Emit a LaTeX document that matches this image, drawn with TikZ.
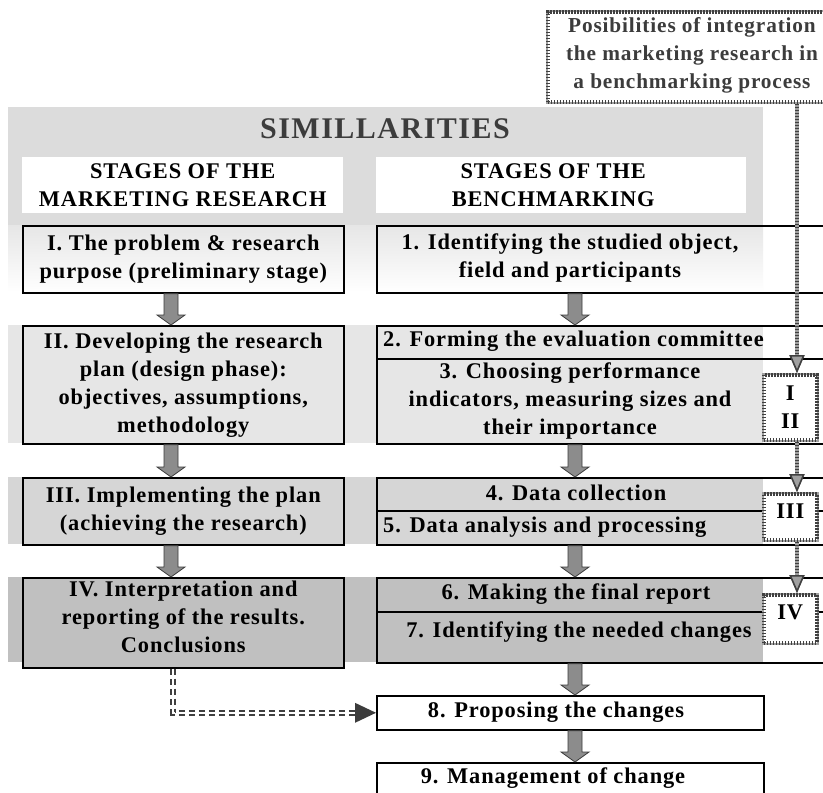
\documentclass[tikz,border=0pt]{standalone}
\usepackage{fontspec}
\setmainfont{Liberation Serif}
\usepackage{xcolor}
\usepackage{tikz}
\usetikzlibrary{positioning,arrows.meta,calc}

\definecolor{bandtop}{HTML}{DCDCDC}
\definecolor{bandtwo}{HTML}{E6E6E6}
\definecolor{bandthree}{HTML}{D6D6D6}
\definecolor{bandfour}{HTML}{C0C0C0}
\definecolor{arrowfill}{HTML}{8C8C8C}
\definecolor{arrowline}{HTML}{3C3C3C}
\definecolor{dotgray}{HTML}{404040}
\definecolor{dotback}{HTML}{A0A0A0}

\tikzset{
  stagebox/.style={draw, line width=1.6pt, inner sep=0pt, anchor=north west},
  stagetext/.style={align=center, inner sep=0pt,
    font=\fontsize{22.4}{28}\selectfont\bfseries\addfontfeature{LetterSpace=4}},
  headbox/.style={fill=white, inner sep=0pt, anchor=north west},
  dotline/.style={draw=dotgray, line width=3.5pt, dash pattern=on 1.5pt off 1.5pt,
    preaction={draw=dotback, line width=3.5pt, solid}},
  markbox/.style={dotline, fill=white, inner sep=0pt, anchor=north west},
  dotarrow/.style={dotline, -{Triangle[length=18pt, width=15pt, line width=1.5pt,
    fill=dotback, color=dotgray]}},
  dashcon/.style={double=white, double distance=1.6pt, line width=2pt,
    dash pattern=on 6pt off 4pt, draw=dotgray},
}

% block arrow between two points on a vertical
\newcommand{\blockarr}[2]{%
  \filldraw[fill=arrowfill, draw=arrowline, line width=0.8pt]
    ($(#1)+(-7,0)$) -- ($(#2)+(-7,-10)$) -- ($(#2)+(-14,-10)$) -- (#2)
    -- ($(#2)+(14,-10)$) -- ($(#2)+(7,-10)$) -- ($(#1)+(7,0)$) -- cycle;}

\begin{document}
\begin{tikzpicture}[x=1pt, y=-1pt]
  \useasboundingbox (0,0) rectangle (823,793);
  \clip (0,0) rectangle (823,793);
  \fill[white] (0,0) rectangle (823,793);

  % grey bands (table shading)
  \fill[bandtop] (8,107) rectangle (763,225);
  \shade[top color=bandtwo, bottom color=white] (8,225) rectangle (763,292);
  \fill[bandtwo] (8,325) rectangle (763,443);
  \fill[bandthree] (8,477) rectangle (763,544);
  \fill[bandfour] (8,577) rectangle (763,662);

  \node[font=\fontsize{30}{32}\selectfont\bfseries\addfontfeature{LetterSpace=5},
    text=arrowline] (sim) at (385,129) {SIMILLARITIES};

  % column headers
  \node[headbox, minimum width=321, minimum height=56] (hl) at (22,157) {};
  \node[stagetext] (hlt) at (hl.center) {STAGES OF THE\\MARKETING RESEARCH};
  \node[headbox, minimum width=370, minimum height=56] (hr) at (376,157) {};
  \node[stagetext] (hrt) at ($(hr.center)+(-8,0)$) {STAGES OF THE\\BENCHMARKING};

  % stages of the marketing research
  \node[stagebox, minimum width=321, minimum height=67,
    top color=bandtwo, bottom color=white] (m1) at (22,225) {};
  \node[stagetext] (m1t) at (m1.center) {I. The problem \& research\\purpose (preliminary stage)};
  \node[stagebox, fill=bandtwo, minimum width=321, minimum height=118] (m2) at (22,325) {};
  \node[stagetext] (m2t) at (m2.center) {II. Developing the research\\plan (design phase):\\objectives, assumptions,\\methodology};
  \node[stagebox, fill=bandthree, minimum width=321, minimum height=67] (m3) at (22,477) {};
  \node[stagetext] (m3t) at (m3.center) {III. Implementing the plan\\(achieving the research)};
  \node[stagebox, fill=bandfour, minimum width=321, minimum height=90] (m4) at (22,577) {};
  \node[stagetext] (m4t) at ($(m4.center)+(0,-6)$) {IV. Interpretation and\\reporting of the results.\\Conclusions};

  % stages of the benchmarking
  \node[stagebox, minimum width=480, minimum height=67] (b1) at (376,225) {};
  \node[stagetext] (b1t) at (570,258) {1. Identifying the studied object,\\field and participants};
  \node[stagebox, minimum width=480, minimum height=33] (b2) at (376,325) {};
  \node[stagetext, anchor=west] (b2t) at (383,341) {2. Forming the evaluation committee};
  \node[stagebox, minimum width=480, minimum height=85] (b3) at (376,358) {};
  \node[stagetext] (b3t) at (570,401) {3. Choosing performance\\indicators, measuring sizes and\\their importance};
  \node[stagebox, minimum width=480, minimum height=33] (b4) at (376,477) {};
  \node[stagetext] (b4t) at (576,493) {4. Data collection};
  \node[stagebox, minimum width=480, minimum height=34] (b5) at (376,510) {};
  \node[stagetext, anchor=west] (b5t) at (383,527) {5. Data analysis and processing};
  \node[stagebox, minimum width=480, minimum height=34] (b6) at (376,577) {};
  \node[stagetext] (b6t) at (576,594) {6. Making the final report};
  \node[stagebox, minimum width=480, minimum height=51] (b7) at (376,611) {};
  \node[stagetext] (b7t) at (579,632) {7. Identifying the needed changes};
  \node[stagebox, fill=white, minimum width=387, minimum height=34] (b8) at (376,695) {};
  \node[stagetext] (b8t) at (556,712) {8. Proposing the changes};
  \node[stagebox, fill=white, minimum width=387, minimum height=50] (b9) at (376,762) {};
  \node[stagetext] (b9t) at (553,778) {9. Management of change};

  % block arrows
  \coordinate (lax) at (171,0);
  \coordinate (rax) at (575,0);
  \blockarr{m1.south -| lax}{m2.north -| lax}
  \blockarr{m2.south -| lax}{m3.north -| lax}
  \blockarr{m3.south -| lax}{m4.north -| lax}
  \blockarr{b1.south -| rax}{b2.north -| rax}
  \blockarr{b3.south -| rax}{b4.north -| rax}
  \blockarr{b5.south -| rax}{b6.north -| rax}
  \blockarr{b7.south -| rax}{b8.north -| rax}
  \blockarr{b8.south -| rax}{b9.north -| rax}

  % interpretation feeds the proposals
  \coordinate (dx) at (173,0);
  \draw[dashcon] (m4.south -| dx) |- ($(b8.west)+(-20,0)$);
  \fill[arrowline] ($(b8.west)+(-21,-10)$) -- (b8.west) -- ($(b8.west)+(-21,10)$) -- cycle;

  % possibilities of integration
  \node[markbox, minimum width=320, minimum height=90] (pos) at (546,10) {};
  \node[stagetext, font=\fontsize{21.3}{28}\selectfont\bfseries\addfontfeature{LetterSpace=4},
    text=arrowline] (post) at (692,55)
    {Posibilities of integration\\the marketing research in\\a benchmarking process};
  \node[markbox, minimum width=53, minimum height=65] (s1) at (762,373) {};
  \node[stagetext] (s1t) at (s1.center) {I\\II};
  \node[markbox, minimum width=53, minimum height=46] (s2) at (762,492) {};
  \node[stagetext] (s2t) at ($(s2.center)+(0,-6)$) {III};
  \node[markbox, minimum width=53, minimum height=48] (s3) at (762,593) {};
  \node[stagetext] (s3t) at ($(s3.center)+(0,-6)$) {IV};

  \coordinate (vx) at (797,0);
  \draw[dotarrow] (pos.south -| vx) -- (s1.north -| vx);
  \draw[dotarrow] (s1.south -| vx) -- (s2.north -| vx);
  \draw[dotarrow] (s2.south -| vx) -- (s3.north -| vx);
\end{tikzpicture}
\end{document}
